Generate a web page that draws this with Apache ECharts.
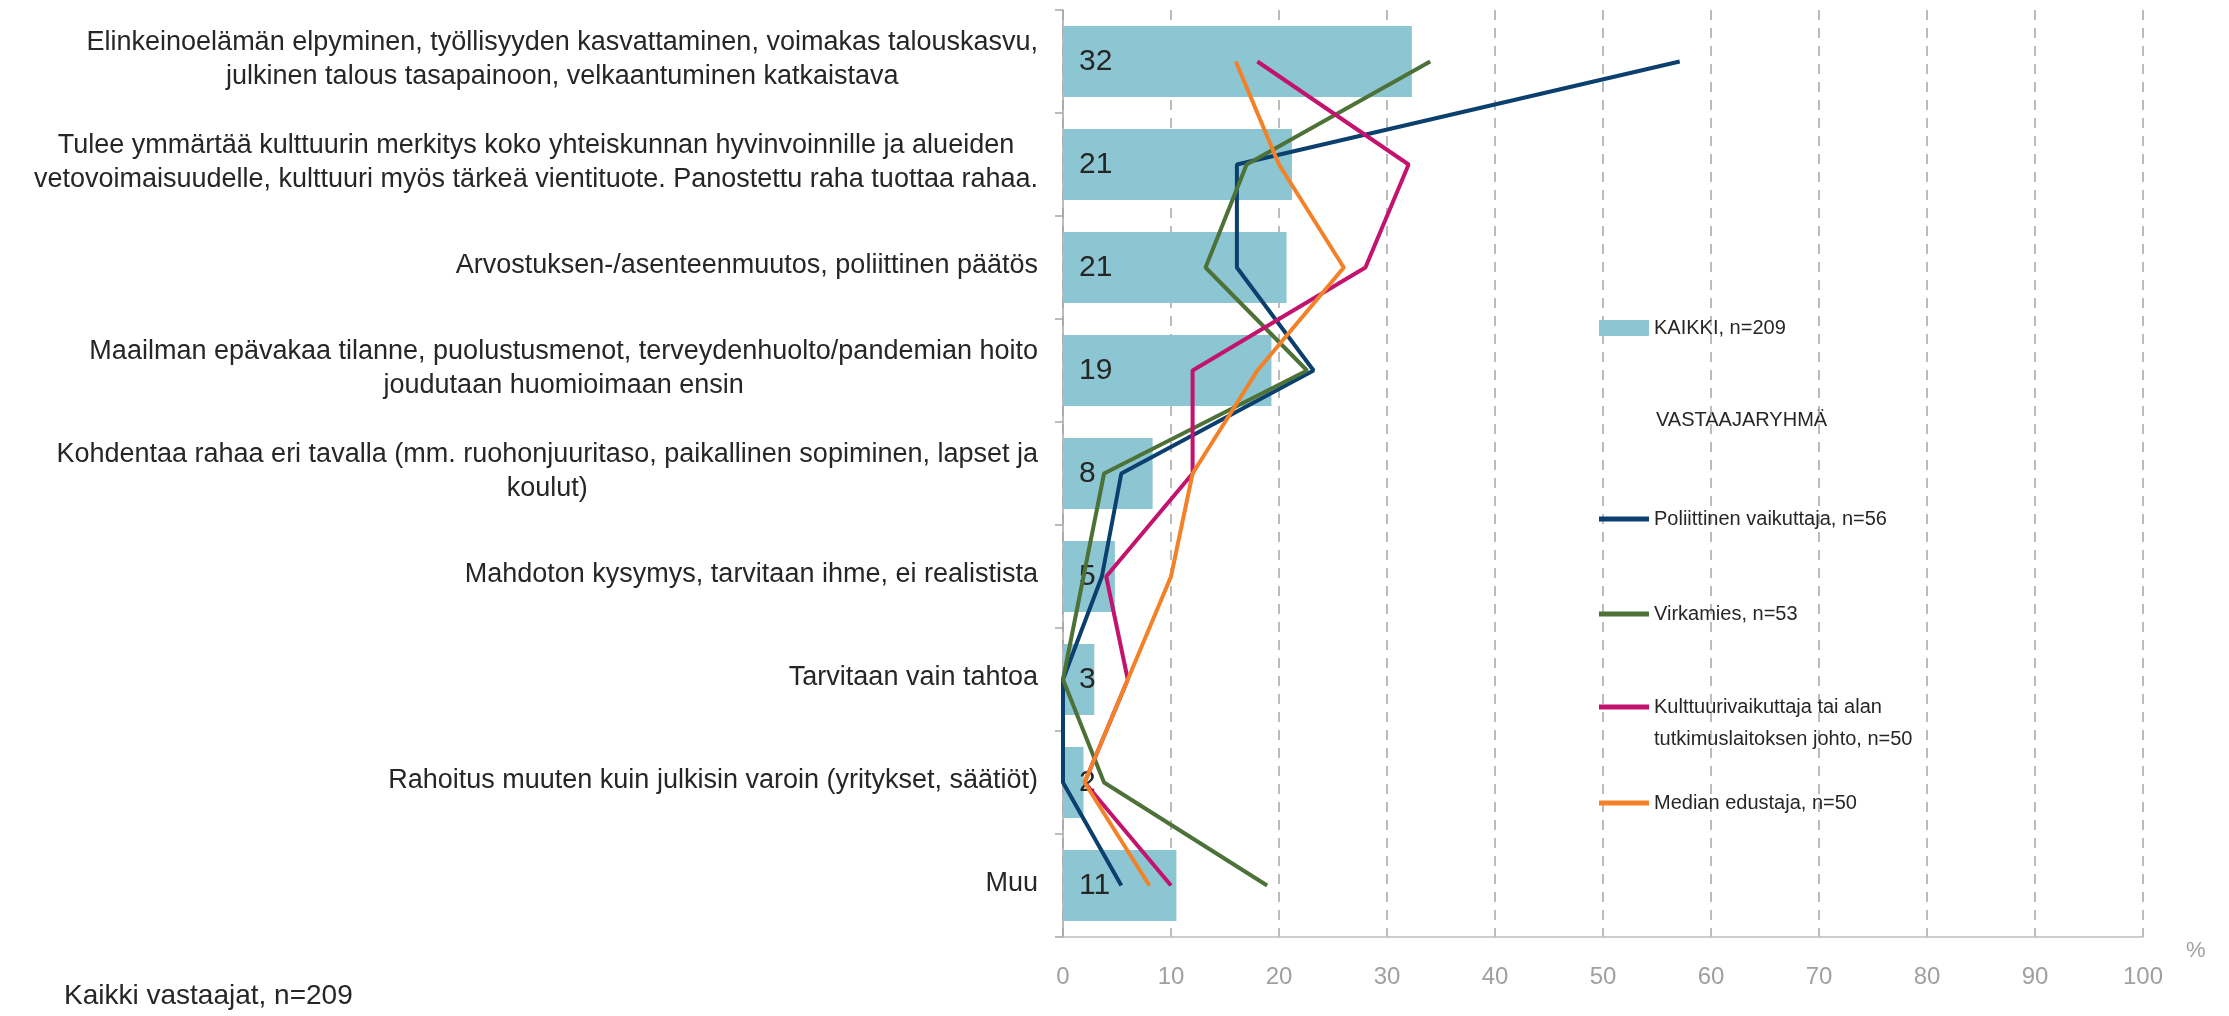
<!DOCTYPE html>
<html>
<head>
<meta charset="utf-8">
<script src="https://cdn.jsdelivr.net/npm/echarts@6/dist/echarts.min.js"></script>
<style>
html,body{margin:0;padding:0;background:#fff;}
#chart{width:2229px;height:1016px;}
</style>
</head>
<body>
<div id="chart"></div>
<script>
const categories = [
  'Elinkeinoelämän elpyminen, työllisyyden kasvattaminen, voimakas talouskasvu,\njulkinen talous tasapainoon, velkaantuminen katkaistava',
  'Tulee ymmärtää kulttuurin merkitys koko yhteiskunnan hyvinvoinnille ja alueiden\nvetovoimaisuudelle, kulttuuri myös tärkeä vientituote. Panostettu raha tuottaa rahaa.',
  'Arvostuksen-/asenteenmuutos, poliittinen päätös',
  'Maailman epävakaa tilanne, puolustusmenot, terveydenhuolto/pandemian hoito\njoudutaan huomioimaan ensin',
  'Kohdentaa rahaa eri tavalla (mm. ruohonjuuritaso, paikallinen sopiminen, lapset ja\nkoulut)',
  'Mahdoton kysymys, tarvitaan ihme, ei realistista',
  'Tarvitaan vain tahtoa',
  'Rahoitus muuten kuin julkisin varoin (yritykset, säätiöt)',
  'Muu'
];
const kaikki = [32.3, 21.2, 20.7, 19.3, 8.3, 4.8, 2.9, 1.9, 10.5];
const poliittinen = [57.1, 16.1, 16.1, 23.2, 5.4, 3.6, 0, 0, 5.4];
const virkamies = [34.0, 17.0, 13.2, 22.6, 3.8, 1.9, 0, 3.8, 18.9];
const kulttuuri = [18, 32, 28, 12, 12, 4, 6, 2, 10];
const median = [16, 20, 26, 18, 12, 10, 6, 2, 8];
const xTicks = [0, 10, 20, 30, 40, 50, 60, 70, 80, 90, 100];

const names = {
  kaikki: 'KAIKKI, n=209',
  pol: 'Poliittinen vaikuttaja, n=56',
  vir: 'Virkamies, n=53',
  kul: 'Kulttuurivaikuttaja tai alan tutkimuslaitoksen johto, n=50',
  med: 'Median edustaja, n=50'
};
const colors = {
  bar: '#8DC6D3', pol: '#0B3F6E', vir: '#4C7238', kul: '#C2136E', med: '#F28128'
};
const labelFont = '"Liberation Sans Narrow", "Arial Narrow", "Liberation Sans", sans-serif';
const legendFont = '"Liberation Sans", Arial, sans-serif';

const chart = echarts.init(document.getElementById('chart'));

function lineSeries(name, data, color) {
  return {
    name: name, type: 'line', data: data, symbol: 'none', z: 5,
    lineStyle: { color: color, width: 4 }, itemStyle: { color: color }
  };
}
function legendAt(name, top, isBar, fmt) {
  return {
    data: [name], left: 1599, top: top, padding: 0,
    itemWidth: 50, itemHeight: isBar ? 16 : 5, itemGap: 0,
    icon: 'rect',
    formatter: fmt || null,
    textStyle: { fontFamily: legendFont, fontSize: 20, color: '#262626', lineHeight: 32 }
  };
}

chart.setOption({
  animation: false,
  grid: { left: 1063, right: 86, top: 10, bottom: 79, containLabel: false },
  xAxis: {
    type: 'value', min: 0, max: 100, interval: 10,
    axisLine: { show: true, lineStyle: { color: '#BFBFBF', width: 1.5 } },
    axisTick: { show: false },
    axisLabel: { color: '#A0A0A0', fontSize: 24, fontFamily: legendFont, margin: 28,
      formatter: v => xTicks.indexOf(v) >= 0 ? String(v) : '' },
    splitLine: { show: true, lineStyle: { color: '#A6A6A6', width: 1.5, type: [10, 8] } }
  },
  yAxis: {
    type: 'category', data: categories, inverse: true,
    axisLine: { show: true, lineStyle: { color: '#A6A6A6', width: 1.5 } },
    axisTick: { show: true, length: 8, lineStyle: { color: '#A6A6A6', width: 1.5 } },
    axisLabel: {
      margin: 25, align: 'right',
      formatter: v => v.split('\n').map(l => '{c|' + l + '}').join('\n'),
      rich: { c: { align: 'center', fontSize: 27, lineHeight: 34, fontFamily: labelFont, color: '#262626', padding: [0, 0, 4, 0] } }
    }
  },
  legend: [
    legendAt(names.kaikki, 312, true),
    legendAt(names.pol, 503),
    legendAt(names.vir, 598),
    legendAt(names.kul, 659, false, () => '\nKulttuurivaikuttaja tai alan\ntutkimuslaitoksen johto, n=50'),
    legendAt(names.med, 787)
  ],
  graphic: [
    { type: 'text', left: 1656, top: 422 - 12,
      style: { text: 'VASTAAJARYHMÄ', font: '20px ' + legendFont, fill: '#262626' } },
    { type: 'text', left: 2186, top: 940,
      style: { text: '%', font: '22px ' + legendFont, fill: '#A0A0A0' } },
    { type: 'text', left: 64, top: 982,
      style: { text: 'Kaikki vastaajat, n=209', font: '28px ' + labelFont, fill: '#262626' } }
  ],
  series: [
    {
      name: names.kaikki, type: 'bar', data: kaikki, barWidth: '69%',
      itemStyle: { color: colors.bar },
      label: { show: true, position: 'insideLeft', distance: 16,
        formatter: p => Math.round(p.value), fontSize: 30, fontFamily: labelFont, color: '#262626' }
    },
    lineSeries(names.pol, poliittinen, colors.pol),
    lineSeries(names.vir, virkamies, colors.vir),
    lineSeries(names.kul, kulttuuri, colors.kul),
    lineSeries(names.med, median, colors.med)
  ]
});
</script>
</body>
</html>
